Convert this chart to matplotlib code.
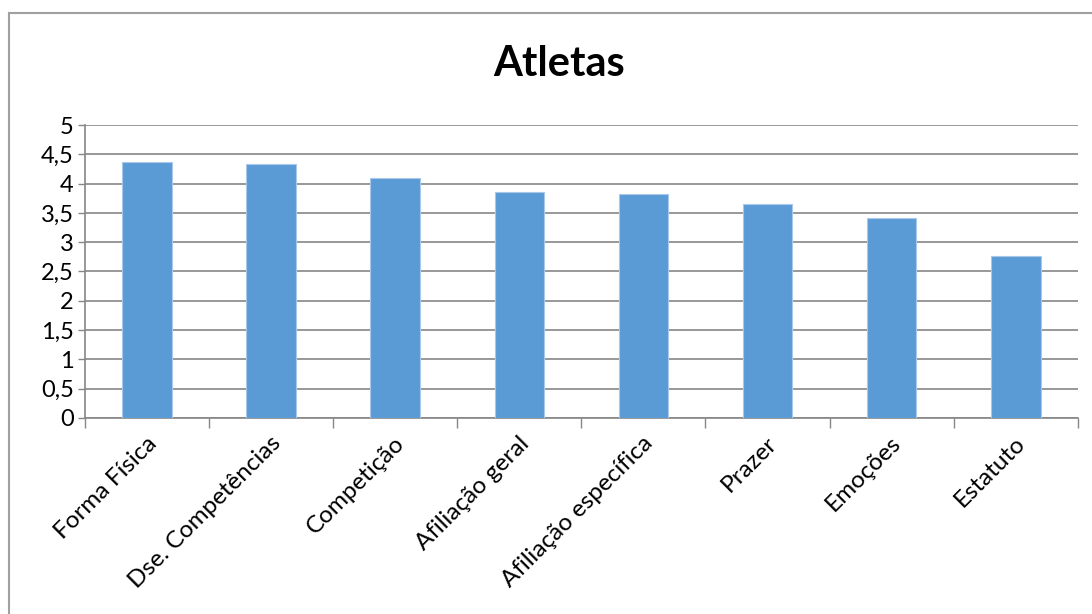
import matplotlib
matplotlib.use("Agg")
import matplotlib.pyplot as plt
from matplotlib.ticker import FuncFormatter, FixedLocator, MultipleLocator
from matplotlib.lines import Line2D
import numpy as np

plt.rcParams['font.family'] = ['Lato', 'DejaVu Sans']

# data
categorias = ["Forma Física", "Dse. Competências", "Competição", "Afiliação geral",
              "Afiliação específica", "Prazer", "Emoções", "Estatuto"]
medias = [4.37, 4.34, 4.10, 3.85, 3.82, 3.65, 3.42, 2.76]

bar_color = '#5B9BD5'
grid_color = '#868686'

fig = plt.figure(figsize=(10.92, 6.14), dpi=100)
ax = fig.add_axes([0.0778, 0.3195, 0.9092, 0.4768])

x = np.arange(len(categorias))
ax.bar(x, medias, width=0.4, color=bar_color, edgecolor='#A9C8EA', linewidth=0.8, zorder=3)

ax.set_xlim(-0.5, len(categorias) - 0.5)
ax.set_ylim(0, 5)
ax.yaxis.set_major_locator(MultipleLocator(0.5))
ax.yaxis.set_major_formatter(FuncFormatter(lambda v, p: f"{v:g}".replace('.', ',')))
ax.grid(axis='y', color=grid_color, linewidth=1.2, zorder=0)

# category boundary ticks on x axis
ax.xaxis.set_major_locator(FixedLocator(np.arange(len(categorias) + 1) - 0.5))
ax.set_xticklabels([])
ax.tick_params(axis='x', length=7, color=grid_color, width=1)
ax.tick_params(axis='y', length=5, color=grid_color, width=1, labelsize=17, pad=3)

for s in ['top', 'right']:
    ax.spines[s].set_visible(False)
ax.spines['left'].set_color(grid_color)
ax.spines['bottom'].set_color(grid_color)
ax.spines['left'].set_linewidth(1.2)
ax.spines['bottom'].set_linewidth(1.2)

for i, lab in enumerate(categorias):
    ax.text(i - 0.01, -0.25, lab, rotation=45, rotation_mode='anchor',
            ha='right', va='top', fontsize=17.5, transform=ax.transData)

fig.text(0.512, 0.895, "Atletas", ha='center', va='center', fontsize=30, fontweight='bold')

# chart frame (left and top visible)
fig.add_artist(Line2D([0.0085, 0.0085], [0, 1 - 13 / 614], transform=fig.transFigure,
                      color='#A0A0A0', linewidth=1.5))
fig.add_artist(Line2D([0.0085, 1], [1 - 13 / 614, 1 - 13 / 614], transform=fig.transFigure,
                      color='#A0A0A0', linewidth=1.5))

fig.savefig("out.png", dpi=100, facecolor='white')
